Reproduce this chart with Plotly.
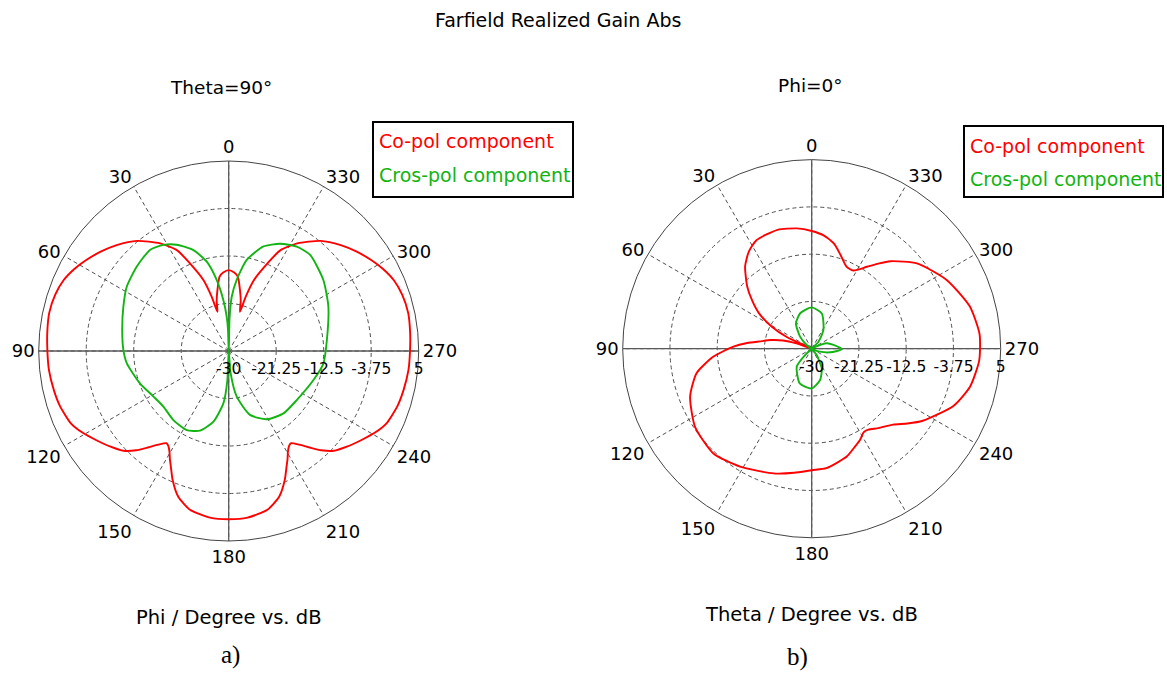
import plotly.graph_objects as go

# ---------------- data ----------------
R_MIN, R_MAX = -30, 5
RADIAL_TICKS = [-30, -21.25, -12.5, -3.75, 5]
RADIAL_TICKTEXT = ["-30", "-21.25", "-12.5", "-3.75", "5"]
ANGLE_TICKS = list(range(0, 360, 30))
ANGLE_TICKTEXT = [str(a) for a in ANGLE_TICKS]

# a) Theta = 90 deg, vs Phi
a_co_theta = [0, 4, 7, 10.5, 13.5, 16, 17.4, 19.6, 23.8, 27.2, 32.5, 39.8, 46.6, 52, 57.3, 62,
              66.8, 72, 78, 84, 90, 96, 102.7, 108, 114.5, 119, 124, 129, 133.5, 137, 140, 143,
              145.9, 147.5, 149.5, 151.5, 153.4, 156.5, 160.9, 166.3, 173.6, 180,
              186.4, 193.7, 199.1, 203.5, 206.6, 208.5, 210.5, 212.5, 214.1, 217, 220, 223,
              226.5, 231, 236, 241, 245.5, 252, 257.3, 264, 270, 276, 282, 288, 293.2, 298,
              302.7, 308, 313.4, 320.2, 327.5, 332.8, 336.2, 340.4, 342.6, 344, 346.5, 349.5,
              353, 356, 360]
a_co_db = [-15.1, -15.5, -16.2, -18.6, -20.5, -22.5, -19.5, -16.1, -12.4, -9.1, -6.5, -3.6, -1.6,
           -0.2, 1.1, 2.2, 3.1, 3.6, 3.8, 3.6, 3.4, 3.3, 3.0, 2.7, 2.0, 0.9, -0.6, -2.0, -3.3,
           -5.0, -6.8, -8.4, -9.5, -9.3, -8.5, -7.3, -6.2, -4.1, -1.6, 0.1, 0.9, 1.0,
           0.9, 0.1, -1.6, -4.1, -6.2, -7.3, -8.5, -9.3, -9.5, -8.4, -6.8, -5.0, -3.3, -2.0,
           -0.6, 0.9, 2.0, 2.7, 3.0, 3.3, 3.4, 3.6, 3.8, 3.6, 3.1, 2.2, 1.1, -0.2, -1.6, -3.6,
           -6.5, -9.1, -12.4, -16.1, -19.5, -22.5, -20.5, -18.6, -16.2, -15.5, -15.1]

a_cx_theta = [0, 1.8, 3.3, 6, 9.6, 13.8, 19.3, 26.1, 31.6, 37.9, 47.5, 57.8, 67.2, 78.8, 89.5,
              96.9, 110, 121.2, 130.4, 141.3, 152, 160.2, 167.8, 174.2, 177.4, 180,
              185, 190, 198.4, 209.1, 221.3, 234.2, 251.1, 262.6, 276.4, 294, 306.9, 319.7,
              326.9, 334.4, 341.6, 348.8, 353.6, 356.8, 358.5, 360]
a_cx_db = [-30, -26.1, -23.7, -20.55, -16.7, -13.05, -10.3, -8.2, -7.06, -6.4, -7.0, -7.8, -8.95,
           -10.0, -10.6, -11.1, -12.6, -13.8, -14.2, -13.7, -13.5, -14.4, -16.7, -20.3, -24.65,
           -30, -25.9, -21.45, -17.6, -15.6, -14.7, -14.55, -13.5, -12.4, -11.8, -9.9, -8.2,
           -6.8, -7.05, -8.1, -9.7, -12.9, -16.8, -20.0, -24.0, -30]

# b) Phi = 0 deg, vs Theta
b_co_theta = [0, 7, 16, 27, 33, 39, 46, 51, 56, 61, 65, 68, 71, 74, 78, 82, 85, 88.5, 94.7, 102,
              111.5, 123.8, 136.8, 148.7, 163, 172, 180, 187, 198, 204, 208, 212, 215, 220, 227,
              232, 237, 248, 256.5, 266, 275, 285, 297, 309, 318, 322, 326, 332, 337, 343, 348,
              354, 360]
b_co_db = [-8.2, -7.55, -7.1, -7.45, -8.6, -10.4, -13.4, -15.8, -18.2, -21.5, -25.0, -29.5, -27.0,
           -24.5, -22.3, -20.3, -18.0, -15.5, -11.7, -8.2, -5.8, -4.0, -3.4, -4.45, -5.85, -6.8,
           -7.5, -7.7, -9.0, -10.2, -10.9, -11.8, -11.7, -10.8, -9.4, -7.5, -5.5, -1.7, 0.15,
           1.1, 1.2, 0.3, -1.95, -4.9, -8.2, -10.0, -11.7, -13.6, -13.5, -11.8, -10.1, -8.9, -8.2]

b_cx_theta = [0, 18, 32, 44, 54, 58, 90, 128, 133.5, 140, 161, 180, 195, 207, 218, 225, 245, 250,
              259, 269, 280, 290, 298, 308, 316, 328, 344, 360]
b_cx_db = [-22.35, -23.1, -24.5, -26.9, -28.85, -30, -30, -30, -28.3, -25.7, -23.2, -22.65, -24.0,
           -25.9, -28.5, -30, -29.5, -28.4, -26.5, -24.4, -25.9, -27.05, -29.5, -30, -28.2, -25.9,
           -23.2, -22.35]

CO_NAME = "Co-pol component"
CX_NAME = "Cros-pol component"
RED = "#ff0000"
GREEN = "#12b412"
FONT = "DejaVu Sans"
GRID_DASH = "4px,3px"

# ---------------- figure ----------------
fig = go.Figure()

for sub, (co_t, co_r, cx_t, cx_r) in zip(
        ["polar", "polar2"],
        [(a_co_theta, a_co_db, a_cx_theta, a_cx_db),
         (b_co_theta, b_co_db, b_cx_theta, b_cx_db)]):
    # solid cross-hair axes (built from the radial range)
    for th in ([0, 0, 180], [90, 90, 270]):
        fig.add_trace(go.Scatterpolar(r=[R_MAX, R_MIN, R_MAX], theta=th, mode="lines",
                                      line=dict(color="#5a5a5a", width=1.3), subplot=sub,
                                      showlegend=False, hoverinfo="skip"))
    fig.add_trace(go.Scatterpolar(r=co_r, theta=co_t, mode="lines", name=CO_NAME,
                                  line=dict(color=RED, width=1.9, shape="spline", smoothing=0.6),
                                  subplot=sub, showlegend=False))
    fig.add_trace(go.Scatterpolar(r=cx_r, theta=cx_t, mode="lines", name=CX_NAME,
                                  line=dict(color=GREEN, width=1.9, shape="spline", smoothing=0.6),
                                  subplot=sub, showlegend=False))

W, H = 1167, 673


def dom(cx, cy, rad):
    return dict(x=[(cx - rad) / W, (cx + rad) / W],
                y=[(H - cy - rad) / H, (H - cy + rad) / H])


def polar_layout(d):
    return dict(
        domain=d,
        bgcolor="white",
        radialaxis=dict(range=[R_MIN, R_MAX], tickvals=RADIAL_TICKS, ticktext=RADIAL_TICKTEXT,
                        angle=0, side="clockwise", tickangle=0, showline=False,
                        ticks="outside", ticklen=4, tickcolor="rgba(0,0,0,0)",
                        gridcolor="#505050", griddash=GRID_DASH, gridwidth=1,
                        tickfont=dict(family=FONT, size=15.5, color="black")),
        angularaxis=dict(rotation=90, direction="counterclockwise", tickmode="array",
                         tickvals=ANGLE_TICKS, ticktext=ANGLE_TICKTEXT,
                         showline=True, linecolor="#444444", linewidth=1,
                         gridcolor="#505050", griddash=GRID_DASH, gridwidth=1,
                         ticks="", tickfont=dict(family=FONT, size=18, color="black")),
    )


fig.update_layout(
    width=W, height=H,
    margin=dict(l=0, r=0, t=0, b=0),
    paper_bgcolor="white",
    showlegend=False,
    polar=polar_layout(dom(228.7, 351, 190)),
    polar2=polar_layout(dom(811.7, 348.7, 189)),
)

texts = [
    ("Farfield Realized Gain Abs", 558, 20, 19, FONT),
    ("Theta=90°", 221, 88, 18.5, FONT),
    ("Phi=0°", 810, 85, 18.5, FONT),
    ("Phi / Degree vs. dB", 229, 617, 19.5, FONT),
    ("Theta / Degree vs. dB", 811, 614, 19.5, FONT),
    ("a)", 230, 655, 25, "Liberation Serif"),
    ("b)", 797, 657, 25, "Liberation Serif"),
]
for t, x, y, s, f in texts:
    fig.add_annotation(text=t, x=x / W, y=1 - y / H, xref="paper", yref="paper",
                       showarrow=False, xanchor="center", yanchor="middle",
                       font=dict(family=f, size=s, color="black"))

# legend boxes
for (x0, y0, x1, y1), ys in [((373, 122, 573, 197), (141, 175)),
                             ((964, 126, 1163, 197), (146, 179))]:
    fig.add_shape(type="rect", xref="paper", yref="paper",
                  x0=x0 / W, x1=x1 / W, y0=1 - y0 / H, y1=1 - y1 / H,
                  line=dict(color="black", width=2), fillcolor="white", layer="above")
    for name, col, yy in [(CO_NAME, RED, ys[0]), (CX_NAME, GREEN, ys[1])]:
        fig.add_annotation(text=name, x=(x0 + 4) / W, y=1 - yy / H, xref="paper", yref="paper",
                           showarrow=False, xanchor="left", yanchor="middle",
                           font=dict(family=FONT, size=19, color=col))

fig.write_html("out.html", config={"displayModeBar": False},
               post_script="document.body.style.margin='0';document.body.style.overflow='hidden';")
